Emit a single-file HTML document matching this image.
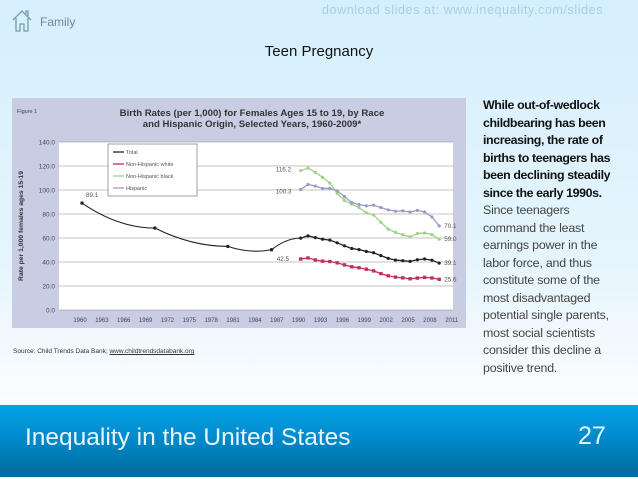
<!DOCTYPE html>
<html><head><meta charset="utf-8"><style>
html,body{margin:0;padding:0}
body{width:638px;height:479px;position:relative;overflow:hidden;font-family:"Liberation Sans",sans-serif;background:linear-gradient(#d5effd 0%,#e6f5fd 55%,#fbfdff 85%)}
.abs{position:absolute}
</style></head><body>
<svg class="abs" style="left:10px;top:8px" width="24" height="26" viewBox="0 0 24 26"><path d="M3 12 L12 3 L21 12 M6 10 V23 H10 V16 H14 V23 H18 V10 M16 6 V3 H18 V8" fill="none" stroke="#7a9ab0" stroke-width="1.3"/></svg>
<div class="abs" style="left:40px;top:15px;font-size:12px;color:#6f8797">Family</div>
<div class="abs" style="left:322px;top:3px;font-size:12.5px;color:#a9cfe6;letter-spacing:0.6px">download slides at: www.inequality.com/slides</div>
<div class="abs" style="left:0;width:638px;top:43px;text-align:center;font-size:15px;color:#111">Teen Pregnancy</div>

<svg class="abs" style="left:12px;top:98px" width="454" height="230" viewBox="12 98 454 230" id="chart"></svg>

<div class="abs" style="left:13px;top:348px;font-size:6.5px;color:#333">Source: Child Trends Data Bank; <u>www.childtrendsdatabank.org</u></div>

<div class="abs" style="left:483px;top:97px;white-space:nowrap;font-size:12.4px;line-height:17.5px;color:#444;letter-spacing:-0.2px"><span style="color:#111;font-weight:bold;letter-spacing:-0.4px">While out-of-wedlock<br>childbearing has been<br>increasing, the rate of<br>births to teenagers has<br>been declining steadily<br>since the early 1990s.</span><br>Since teenagers<br>command the least<br>earnings power in the<br>labor force, and thus<br>constitute some of the<br>most disadvantaged<br>potential single parents,<br>most social scientists<br>consider this decline a<br>positive trend.</div>

<div class="abs" style="left:0;top:405px;width:638px;height:72px;background:linear-gradient(#03a3ea,#0288c8 50%,#036a9c)"></div>
<div class="abs" style="left:25px;top:424px;font-size:24.5px;color:#e8f6ff">Inequality in the United States</div>
<div class="abs" style="left:578px;top:422px;font-size:25px;color:#e8f6ff">27</div>

<script>
const years=[1990,1991,1992,1993,1994,1995,1996,1997,1998,1999,2000,2001,2002,2003,2004,2005,2006,2007,2008,2009];
const totalEarlyYears=[1960,1970,1980,1986];
const totalEarly=[89.1,68.3,53.0,50.2];
const total=[59.9,61.8,60.3,59.0,58.2,56.0,53.5,51.3,50.3,48.8,47.7,45.3,43.0,41.6,41.1,40.5,41.9,42.5,41.5,39.1];
const white=[42.5,43.4,41.7,40.7,40.4,39.3,37.6,36.0,35.2,34.0,32.6,30.3,28.5,27.4,26.8,26.0,26.6,27.2,26.7,25.6];
const black=[116.2,118.2,114.7,110.5,105.7,97.2,91.4,88.2,85.3,81.0,79.2,73.1,67.4,64.7,62.7,60.9,63.7,64.2,62.9,59.0];
const hispanic=[100.3,104.6,103.3,101.3,101.3,99.3,94.6,89.6,87.9,86.8,87.3,85.4,83.4,82.3,82.6,81.7,83.0,81.7,77.5,70.1];
const yTicks=[0,20,40,60,80,100,120,140];
const xTickYears=[1960,1963,1966,1969,1972,1975,1978,1981,1984,1987,1990,1993,1996,1999,2002,2005,2008,2011];

const NS="http://www.w3.org/2000/svg";
const svg=document.getElementById('chart');
const X=y=>82+(y-1960)*7.29;
const Y=v=>310-v*(168/140);
function mk(t,a,p){const e=document.createElementNS(NS,t);for(const k in a)e.setAttribute(k,a[k]);(p||svg).appendChild(e);return e;}
let bg=mk('rect',{x:12,y:98,width:454,height:230,fill:'#c9cde4'});


let pa=mk('rect',{x:59,y:142,width:394,height:168,fill:'#fff'});


let t1=mk('text',{x:252,y:116,'text-anchor':'middle','font-size':9.6,'font-weight':'bold',fill:'#333'});t1.textContent='Birth Rates (per 1,000) for Females Ages 15 to 19, by Race';


let t2=mk('text',{x:252,y:127,'text-anchor':'middle','font-size':9.6,'font-weight':'bold',fill:'#333'});t2.textContent='and Hispanic Origin, Selected Years, 1960-2009*';


let fg=mk('text',{x:17,y:113,'font-size':5.5,fill:'#444'});fg.textContent='Figure 1';


yTicks.forEach(v=>{
 let l=mk('line',{x1:59,x2:453,y1:Y(v),y2:Y(v),stroke:'#888','stroke-width':0.6});
 
 
 let t=mk('text',{x:55,y:Y(v)+2.5,'text-anchor':'end','font-size':6.5,fill:'#444'});t.textContent=v.toFixed(1);
 
 
});
xTickYears.forEach(yr=>{
 let t=mk('text',{x:X(yr)-2,y:322,'text-anchor':'middle','font-size':6,fill:'#444'});t.textContent=yr;
 
 
});
let yt=mk('text',{x:0,y:0,transform:'translate(23,226) rotate(-90)','text-anchor':'middle','font-size':6.8,'font-weight':'bold',fill:'#333'});yt.textContent='Rate per 1,000 females ages 15-19';



function series(name,ys,vals,color,marker){
 const pts=ys.map((y,i)=>X(y)+','+Y(vals[i])).join(' ');
 let pl=mk('polyline',{points:pts,fill:'none',stroke:color,'stroke-width':1.3});
 
 
 ys.forEach((y,i)=>{
  let m=marker==='sq'?mk('rect',{x:X(y)-1.7,y:Y(vals[i])-1.7,width:3.4,height:3.4,fill:color}):mk('circle',{cx:X(y),cy:Y(vals[i]),r:1.6,fill:color});
  
  
 });
}
{
 const xs=totalEarlyYears.concat([1990]),vs=totalEarly.concat([total[0]]);
 let d='M'+X(xs[0])+','+Y(vs[0]);
 for(let i=1;i<xs.length;i++){const mx=(X(xs[i-1])+X(xs[i]))/2;d+=' Q'+mx+','+(Y(vs[i])+ (i==3?4:0))+' '+X(xs[i])+','+Y(vs[i]);}
 let p=mk('path',{d:d,fill:'none',stroke:'#222','stroke-width':1.1});
 
 
 totalEarlyYears.forEach((y,i)=>{let c=mk('circle',{cx:X(y),cy:Y(totalEarly[i]),r:1.7,fill:'#222'});
 
 });
}
series('black',years,black,'#9fd08a','c');
series('hispanic',years,hispanic,'#9c9ac6','c');
series('total',years,total,'#222','c');
series('white',years,white,'#c0305a','sq');
const labels=[[X(1960)+4,Y(89.1)-6,'89.1'],[X(1990)-25,Y(116.2)+1,'116.2'],[X(1990)-25,Y(100.3)+4,'100.3'],[X(1990)-24,Y(42.5)+2,'42.5'],[X(2009)+5,Y(70.1)+2,'70.1'],[X(2009)+5,Y(59.0)+2,'59.0'],[X(2009)+5,Y(39.1)+2,'39.1'],[X(2009)+5,Y(25.6)+2,'25.6']];
labels.forEach(l=>{let t=mk('text',{x:l[0],y:l[1],'font-size':6.3,fill:'#555'});t.textContent=l[2];

});
let lg=mk('rect',{x:108,y:144,width:89,height:52,fill:'#fff',stroke:'#666','stroke-width':0.6});


[['Total','#222'],['Non-Hispanic white','#c0305a'],['Non-Hispanic black','#9fd08a'],['Hispanic','#9c9ac6']].forEach((e,i)=>{
 const yy=152+i*12;
 let l=mk('line',{x1:113,x2:124,y1:yy,y2:yy,stroke:e[1],'stroke-width':1.3});
 
 
 let t=mk('text',{x:126,y:yy+2,'font-size':5.5,fill:'#555'});t.textContent=e[0];
 
 
});
</script>
</body></html>
